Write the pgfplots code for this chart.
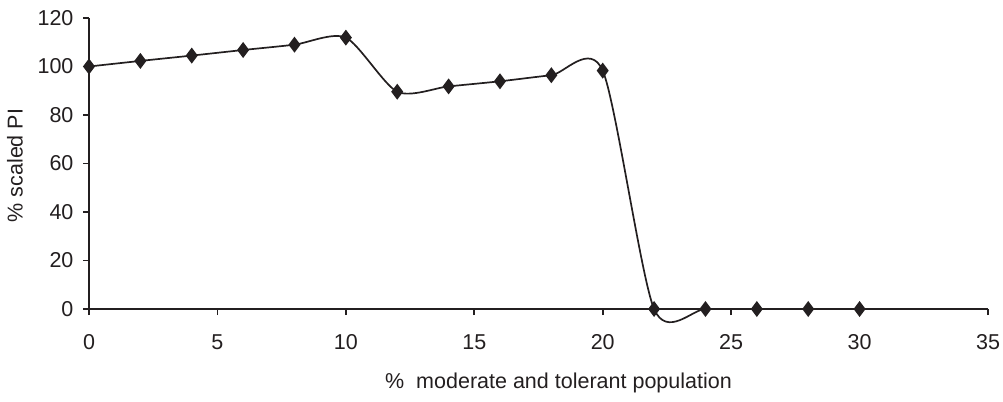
\documentclass[border=0pt]{standalone}
\usepackage{fontspec}
\setmainfont{Liberation Sans}
\usepackage{pgfplots}
\pgfplotsset{compat=1.18}
\definecolor{ink}{HTML}{231F20}
\begin{document}
\fontsize{10.75pt}{13pt}\selectfont
\begin{tikzpicture}
\begin{axis}[
  name=ax,
  scale only axis,
  width=449.5pt, height=145.5pt,
  xmin=0, xmax=35, ymin=0, ymax=120,
  xtick={0,5,...,35}, ytick={0,20,...,120},
  axis x line*=bottom, axis y line*=left,
  axis line style={ink, line width=0.9pt},
  tick style={ink, line width=0.9pt},
  tick align=outside,
  major tick length=3pt,
  /pgf/number format/assume math mode=true,
  ticklabel style={font=\fontsize{10.75pt}{13pt}\selectfont, text=ink},
  xticklabel style={yshift=-6pt},
  yticklabel style={xshift=-1pt},
  clip=false,
]
\addplot[ink, line width=0.85pt, smooth, tension=0.45,
  mark=diamond*, mark size=3.3pt, mark options={fill=ink, draw=ink}]
  coordinates {
  (0,100) (2,102.3) (4,104.5) (6,106.8) (8,109) (10,111.9)
  (12,89.6) (14,91.8) (16,93.9) (18,96.4) (20,98.3)
  (22,0) (24,0) (26,0) (28,0) (30,0)
  };
\end{axis}
\node[rotate=90, text=ink] at ([xshift=-37pt, yshift=-1pt]ax.west) {\% scaled PI};
\node[text=ink] at ([xshift=10pt, yshift=-37pt]ax.south) {\%\ \ moderate and tolerant population};
\pgfresetboundingbox
\path[use as bounding box] ([xshift=-44.5pt, yshift=-46pt]ax.south west) rectangle ([xshift=7.5pt, yshift=9pt]ax.north east);
\end{tikzpicture}
\end{document}
